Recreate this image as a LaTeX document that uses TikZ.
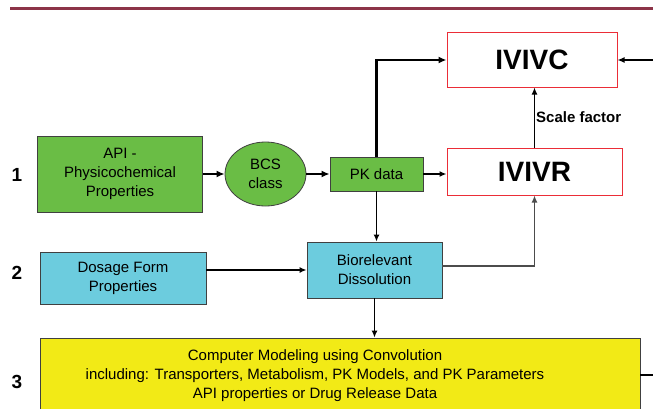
\documentclass[tikz,border=0pt]{standalone}
\usepackage{fontspec}
\setmainfont{Liberation Sans}
\usetikzlibrary{shapes, arrows.meta, positioning}
\definecolor{pkgreen}{RGB}{106,189,69}
\definecolor{discyan}{RGB}{108,204,222}
\definecolor{modyellow}{RGB}{242,234,22}
\definecolor{corred}{RGB}{235,45,55}
\definecolor{rulered}{RGB}{140,52,72}
\tikzstyle{box}   = [draw=black!75, line width=0.8pt, rectangle, inner sep=0pt, align=center, font=\fontsize{15}{19}\selectfont]
\tikzstyle{gbox}  = [box, fill=pkgreen]
\tikzstyle{cbox}  = [box, fill=discyan]
\tikzstyle{ybox}  = [box, fill=modyellow]
\tikzstyle{rbox}  = [draw=corred, line width=1pt, rectangle, inner sep=0pt, font=\fontsize{28}{30}\bfseries]
\tikzstyle{num}   = [font=\fontsize{19}{20}\bfseries]
\tikzstyle{line}  = [draw, line width=1.4pt]
\tikzstyle{arr}   = [draw, line width=1.4pt, -{Latex[length=7pt, width=6pt]}]
\tikzstyle{tarr}  = [draw, line width=2.4pt, -{Latex[length=8pt, width=7pt]}]

\begin{document}
\begin{tikzpicture}[x=1pt, y=1pt]

\path [clip] (0,0) rectangle (653,408);
\useasboundingbox (0,0) rectangle (653,408);

% top rule
\draw [rulered, line width=2.5pt] (10,399.5) -- (653,399.5);

% nodes
\node [rbox, minimum width=170, minimum height=54] at ( 532   , 348   ) (ivivc) {IVIVC};
\node [rbox, minimum width=175, minimum height=47] at ( 534.5 , 236.5 ) (ivivr) {IVIVR};

\node [gbox, minimum width=165, minimum height=76] at ( 120   , 234   ) (api)   {API -\\Physicochemical\\Properties};
\node [gbox, ellipse, minimum width=81, minimum height=64] at ( 265.5 , 234 ) (bcs) {BCS\\class};
\node [gbox, minimum width=93,  minimum height=34] at ( 376.5 , 234   ) (pk)    {PK data};

\node [cbox, minimum width=166, minimum height=52] at ( 123   , 130   ) (dosage) {Dosage Form\\Properties};
\node [cbox, minimum width=135, minimum height=56] at ( 374.5 , 138   ) (bio)    {Biorelevant\\Dissolution};

\node [ybox, minimum width=600, minimum height=76] at ( 340   , 32    ) (model)  {};
\node [align=center, font=\fontsize{15}{19}\selectfont] at ( 315 , 32 ) (modeltext)
  {Computer Modeling using Convolution\\including: Transporters, Metabolism, PK Models, and PK Parameters\\API properties or Drug Release Data};

\node [num] at ( 17 , 233 ) (n1) {1};
\node [num] at ( 17 , 135 ) (n2) {2};
\node [num] at ( 17 ,  26 ) (n3) {3};

\coordinate (inR)  at ( 660 , 348 );
\coordinate (outR) at ( 660 ,  33 );

% edges
\path [tarr]
  (api) edge (bcs)
  (bcs) edge (pk);

\path [arr]
  (pk.east)    edge (pk.east -| ivivr.west)
  (pk.south)   edge (pk.south |- bio.north)
  (bio.south)  edge (bio.south |- model.north)
  (dosage.east |- bio.west) edge (bio.west)
  (ivivr.north) edge node [right, font=\fontsize{15}{17}\bfseries, inner sep=1pt] {Scale factor} (ivivr.north |- ivivc.south)
  (inR)        edge (ivivc.east);

\draw [tarr] (pk.north) |- (ivivc.west);
\draw [arr, draw=black!70] (bio.east) ++(0,4) -| (ivivr.south);
\draw [line] (model.east |- outR) -- (outR);

\end{tikzpicture}
\end{document}
